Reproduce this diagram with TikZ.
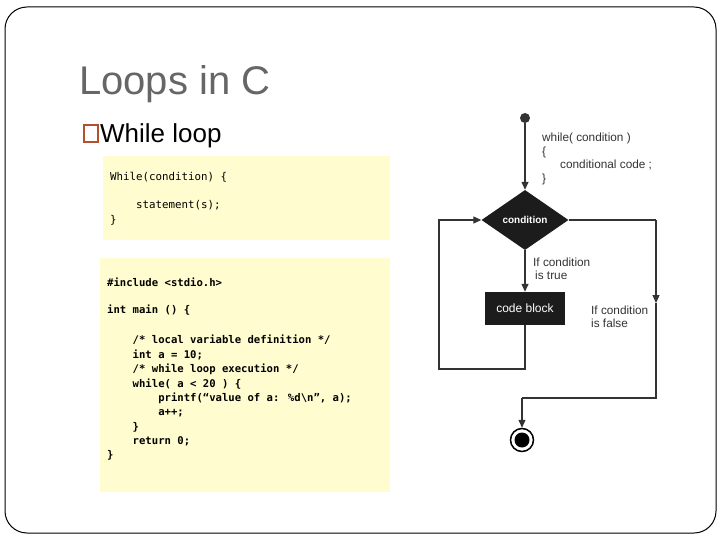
\documentclass[tikz,border=0pt]{standalone}
\usepackage{fontspec}
\setmainfont{Liberation Sans}
\newfontfamily\codefont{DejaVu Sans Mono}
\usetikzlibrary{shapes.geometric,arrows.meta}
\definecolor{titlegray}{HTML}{666666}
\definecolor{bulletbrown}{HTML}{B0522C}
\definecolor{codeyellow}{HTML}{FFFDCF}
\definecolor{flowgray}{HTML}{333333}
\definecolor{blockblack}{HTML}{1C1C1C}
\tikzset{
  txt/.style={anchor=base west, inner sep=0pt},
  codeline/.style={txt, font=\codefont\fontsize{10.8}{13}\selectfont},
  codebold/.style={txt, font=\codefont\bfseries\fontsize{10.6}{13}\selectfont},
  flowtxt/.style={txt, text=flowgray, font=\fontsize{11.8}{13}\selectfont},
  flowline/.style={draw=flowgray, line width=1.3pt},
  flowarr/.style={flowline, -{Triangle[length=8pt,width=7pt]}},
}
\begin{document}
\begin{tikzpicture}[x=1pt,y=-1pt]
\useasboundingbox (0,0) rectangle (720,540);
\fill[white] (0,0) rectangle (720,540);
\draw[line width=1pt, rounded corners=22pt] (5,7) rectangle (716,533);

% title and bullet
\node[txt, text=titlegray, font=\fontsize{40}{46}\selectfont] (title) at (79,95) {Loops in C};
\draw[bulletbrown, line width=1.6pt] (84,125) rectangle (98,142);
\node[txt, font=\fontsize{26}{30}\selectfont] (bullet) at (100,143) {While loop};

% code box 1
\fill[codeyellow] (103,156) rectangle (390,240);
\node[codeline] (c1a) at (110,181) {While(condition) \{};
\node[codeline] (c1b) at (110,208) {\ \ \ \ statement(s);};
\node[codeline] (c1c) at (110,223) {\}};

% code box 2
\fill[codeyellow] (100,258) rectangle (390,492);
\node[codebold] (c2a) at (107,286) {\#include <stdio.h>};
\node[codebold] (c2b) at (107,313) {int main () \{};
\node[codebold] (c2c) at (107,343) {\ \ \ \ /* local variable definition */};
\node[codebold] (c2d) at (107,358) {\ \ \ \ int a = 10;};
\node[codebold] (c2e) at (107,372) {\ \ \ \ /* while loop execution */};
\node[codebold] (c2f) at (107,387) {\ \ \ \ while( a < 20 ) \{};
\node[codebold] (c2g) at (107,401) {\ \ \ \ \ \ \ \ printf(“value of a: \%d\textbackslash n”, a);};
\node[codebold] (c2h) at (107,415) {\ \ \ \ \ \ \ \ a++;};
\node[codebold] (c2i) at (107,430) {\ \ \ \ \}};
\node[codebold] (c2j) at (107,444) {\ \ \ \ return 0;};
\node[codebold] (c2k) at (107,458) {\}};

% flowchart
\node[circle, fill=flowgray, minimum size=10pt, inner sep=0pt] (start) at (525,118) {};
\node[flowtxt] (w1) at (542,142) {while( condition )};
\node[flowtxt] (w2) at (542,156) {\{};
\node[flowtxt] (w3) at (560,169) {conditional code ;};
\node[flowtxt] (w4) at (542,183) {\}};

\node[diamond, fill=blockblack, text=white, font=\bfseries\fontsize{10}{12}\selectfont,
      minimum width=87pt, minimum height=60pt, inner sep=0pt] (cond) at (525,220) {condition};
\node[rectangle, fill=blockblack, text=white, font=\fontsize{12}{14}\selectfont,
      minimum width=80pt, minimum height=33pt, inner sep=0pt] (code) at (525,308.5) {code block};

\node[flowtxt] (t1) at (533,266) {If condition};
\node[flowtxt] (t2) at (535,279) {is true};
\node[flowtxt] (f1) at (591,314) {If condition};
\node[flowtxt] (f2) at (591,327) {is false};

\node[circle, draw=black, line width=1.5pt, fill=white, minimum size=23pt, inner sep=0pt] (stop) at (522,440) {};
\node[circle, fill=black, minimum size=15pt, inner sep=0pt] (stopin) at (522,440) {};

\coordinate (lb) at (439,369);
\coordinate (rt) at (656,220);
\coordinate (rm) at (656,303);
\coordinate (rb) at (656,398);
\coordinate (eb) at (522,398);

\draw[flowarr] (start) -- (cond.north);
\draw[flowarr] (cond.south) -- (code.north);
\draw[flowarr] (code.south) |- (lb) |- (cond.west);
\draw[flowline] (cond.east) -- (rt);
\draw[flowarr] (rt) -- (rm);
\draw[flowline] (rm) -- (rb) -- (eb);
\draw[flowarr] (eb) -- (stop.north);
\end{tikzpicture}
\end{document}
